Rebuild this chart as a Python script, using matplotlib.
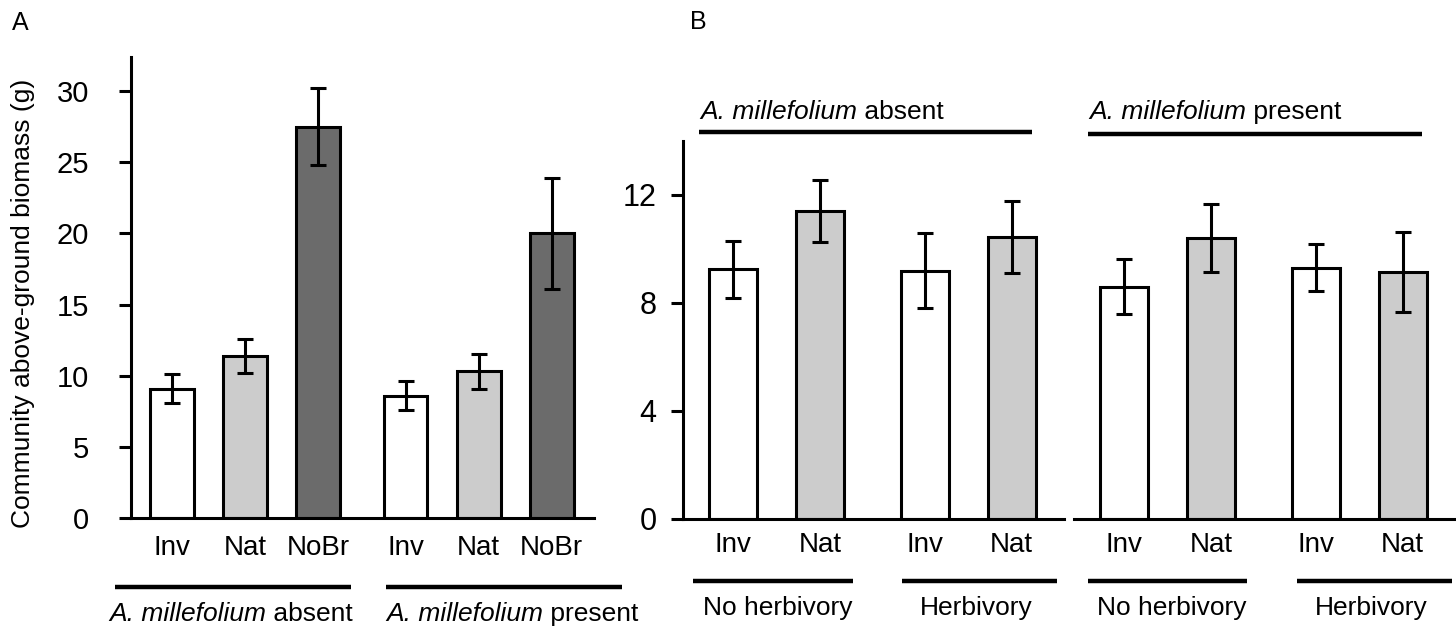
import numpy as np
import matplotlib
matplotlib.use('Agg')
import matplotlib.pyplot as plt
from matplotlib.lines import Line2D

plt.rcParams['font.family'] = ['Liberation Sans', 'DejaVu Sans']

# panel A data
a_labels = ['Inv', 'Nat', 'NoBr', 'Inv', 'Nat', 'NoBr']
a_means = [9.1, 11.4, 27.5, 8.6, 10.3, 20.0]
a_err = [1.0, 1.2, 2.7, 1.0, 1.2, 3.9]
a_colors = ['white', '#cccccc', '#6b6b6b', 'white', '#cccccc', '#6b6b6b']

# panel B data (absent: no herb, herb ; present: no herb, herb)
b_labels = ['Inv', 'Nat', 'Inv', 'Nat']
b_absent = [9.25, 11.4, 9.2, 10.45]
b_absent_err = [1.05, 1.15, 1.4, 1.33]
b_present = [8.6, 10.4, 9.3, 9.15]
b_present_err = [1.02, 1.27, 0.87, 1.49]
b_colors = ['white', '#cccccc', 'white', '#cccccc']

W, H = 1456, 630
fig = plt.figure(figsize=(W / 100, H / 100), dpi=100)
renderer = fig.canvas.get_renderer()

LW = 2.2
GROUP_FS = 19


def px_axes(x0, x1, y0, y1):
    return fig.add_axes([x0 / W, 1 - y1 / H, (x1 - x0) / W, (y1 - y0) / H])


def fig_line(x0, x1, y):
    fig.add_artist(Line2D([x0 / W, x1 / W], [1 - y / H, 1 - y / H],
                          transform=fig.transFigure, color='black', lw=3.2,
                          solid_capstyle='butt'))


def fig_text(x, y, s, **kw):
    fig.text(x / W, 1 - y / H, s, fontsize=GROUP_FS, va='center', **kw)


def fig_mixed(x, y, italic, normal, ha='left'):
    # italic species name followed by plain word
    t1 = fig.text(0, 1 - y / H, italic, fontsize=GROUP_FS, style='italic', va='center')
    t2 = fig.text(0, 1 - y / H, ' ' + normal, fontsize=GROUP_FS, va='center')
    w1 = t1.get_window_extent(renderer).width
    w2 = t2.get_window_extent(renderer).width
    x0 = x - (w1 + w2) / 2 if ha == 'center' else x
    t1.set_x(x0 / W)
    t2.set_x((x0 + w1) / W)


def style(ax, left=True):
    for s in ['top', 'right']:
        ax.spines[s].set_visible(False)
    ax.spines['bottom'].set_linewidth(LW)
    ax.spines['left'].set_linewidth(LW)
    if not left:
        ax.spines['left'].set_visible(False)
    ax.tick_params(axis='x', length=0, labelsize=20)
    ax.tick_params(axis='y', length=9, width=LW, direction='out', labelsize=21)


# ---- panel A
axA = px_axes(131, 594, 57, 518)
posA = np.array([0, 1, 2, 3.2, 4.2, 5.2])
axA.bar(posA, a_means, width=0.6, color=a_colors, edgecolor='black', linewidth=LW,
        yerr=a_err, error_kw=dict(ecolor='black', elinewidth=LW, capsize=6, capthick=LW))
axA.set_xlim(-0.56, 5.78)
axA.set_ylim(0, 32.4)
axA.set_yticks([0, 5, 10, 15, 20, 25, 30])
axA.set_xticks(posA)
axA.set_xticklabels(a_labels)
style(axA)
axA.tick_params(axis='y', pad=21)
axA.tick_params(axis='x', pad=12)
axA.set_ylabel('Community above-ground biomass (g)', fontsize=19)
axA.yaxis.set_label_coords(-0.207, 0.466)

fig_line(115, 351, 587)
fig_line(386, 622, 587)
fig_mixed(231, 614, 'A. millefolium', 'absent', ha='center')
fig_mixed(386, 614, 'A. millefolium', 'present', ha='left')
fig.text(12 / W, 1 - 23 / H, 'A', fontsize=18, va='center')

# ---- panel B
posB = np.array([0, 1, 2.2, 3.2])
axB1 = px_axes(683, 1064, 141, 519)
axB2 = px_axes(1074, 1455, 141, 519)
for ax, vals, errs, left in [(axB1, b_absent, b_absent_err, True),
                             (axB2, b_present, b_present_err, False)]:
    ax.bar(posB, vals, width=0.55, color=b_colors, edgecolor='black', linewidth=LW,
           yerr=errs, error_kw=dict(ecolor='black', elinewidth=LW, capsize=6, capthick=LW))
    ax.set_xlim(-0.575, 3.80)
    ax.set_ylim(0, 14)
    ax.set_yticks([0, 4, 8, 12])
    ax.set_xticks(posB)
    ax.set_xticklabels(b_labels)
    style(ax, left)
    ax.tick_params(axis='y', pad=10, labelsize=22)
    ax.tick_params(axis='x', pad=9)
    if not left:
        ax.tick_params(axis='y', left=False, labelleft=False)

fig_line(699, 1032, 132)
fig_line(1088, 1422, 134)
fig_mixed(700, 112, 'A. millefolium', 'absent')
fig_mixed(1089, 112, 'A. millefolium', 'present')

for x0, x1, label, xc in [(693, 853, 'No herbivory', 778), (902, 1057, 'Herbivory', 976),
                          (1088, 1247, 'No herbivory', 1172), (1297, 1452, 'Herbivory', 1371)]:
    fig_line(x0, x1, 581)
    fig_text(xc, 608, label, ha='center')

fig.text(690 / W, 1 - 22 / H, 'B', fontsize=18, va='center')

fig.savefig('out.png', dpi=100)
